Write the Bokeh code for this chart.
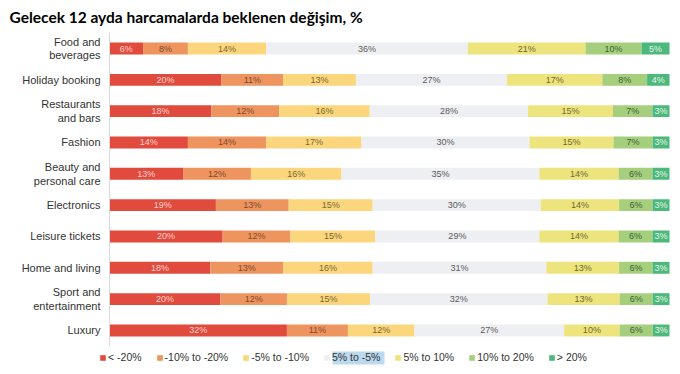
from bokeh.plotting import figure
from bokeh.models import ColumnDataSource, Range1d, BoxAnnotation, Label
from bokeh.core.properties import value
from bokeh.embed import file_html
from bokeh.resources import INLINE

title_text = "Gelecek 12 ayda harcamalarda beklenen değişim, %"
categories = ["Food and\nbeverages", "Holiday booking", "Restaurants\nand bars", "Fashion",
              "Beauty and\npersonal care", "Electronics", "Leisure tickets", "Home and living",
              "Sport and\nentertainment", "Luxury"]
series_names = ["< -20%", "-10% to -20%", "-5% to -10%", "5% to -5%", "5% to 10%", "10% to 20%", "> 20%"]
lt_minus20 = [6, 20, 18, 14, 13, 19, 20, 18, 20, 32]
minus10_20 = [8, 11, 12, 14, 12, 13, 12, 13, 12, 11]
minus5_10 = [14, 13, 16, 17, 16, 15, 15, 16, 15, 12]
plus_minus5 = [36, 27, 28, 30, 35, 30, 29, 31, 32, 27]
plus5_10 = [21, 17, 15, 15, 14, 14, 14, 13, 13, 10]
plus10_20 = [10, 8, 7, 7, 6, 6, 6, 6, 6, 6]
gt_plus20 = [5, 4, 3, 3, 3, 3, 3, 3, 3, 3]
series = [lt_minus20, minus10_20, minus5_10, plus_minus5, plus5_10, plus10_20, gt_plus20]

bar_colors = ["#E14B3E", "#EE945F", "#FBD67C", "#EDEFF2", "#EDE47D", "#A6CF7D", "#4DB87B"]
text_colors = ["#F8D3CD", "#7E4A2C", "#7A6634", "#5A5A5A", "#6E6A34", "#3F5F33", "#E4F4E8"]

W, H = 672, 366
left_px, right_px = 109, 669          # pixels of 0% and 100%
row0_px, row_step = 48.0, 31.33       # pixel centre of first row, row spacing
px_per_unit = (right_px - left_px) / 100.0
x_start = -left_px / px_per_unit
x_end = 100 + (W - right_px) / px_per_unit
y_top = -row0_px / row_step
y_bottom = (H - row0_px) / row_step

def ydata(py):
    return y_top + py / row_step

def xdata(px):
    return (px - left_px) / px_per_unit

p = figure(width=W, height=H, output_backend="svg", toolbar_location=None,
           x_range=Range1d(x_start, x_end), y_range=Range1d(y_bottom, y_top),
           x_axis_location=None, y_axis_location=None, min_border=0)
p.outline_line_color = None
p.xgrid.visible = False
p.ygrid.visible = False
p.background_fill_color = "white"
p.border_fill_color = "white"

# highlight behind the fourth legend label
hl = BoxAnnotation(left=xdata(332), right=xdata(384), top=ydata(351), bottom=ydata(364),
                   fill_color="#BCD9EE", fill_alpha=1.0, line_color=None, level="underlay")
p.add_layout(hl)

n = len(categories)
rows = list(range(n))
totals = [sum(s[i] for s in series) for i in rows]
cum = [0.0] * n
for k, s in enumerate(series):
    left = [cum[i] for i in rows]
    right = [cum[i] + s[i] / totals[i] * 100 for i in rows]
    cum = right
    src = ColumnDataSource(dict(y=rows, left=left, right=right,
                                mid=[(a + b) / 2 for a, b in zip(left, right)],
                                lab=[f"{v}%" for v in s]))
    p.hbar(y="y", left="left", right="right", height=0.38, source=src,
           fill_color=bar_colors[k], line_color=None, legend_label=series_names[k])
    p.text(x="mid", y="y", text="lab", source=src, text_align="center", text_baseline="middle",
           text_font=value("Liberation Sans"), text_font_size="9px", text_color=text_colors[k])

# axis line
p.segment(x0=[0], y0=[-0.5], x1=[0], y1=[n - 0.5], line_color="#DADADA", line_width=1)

# category labels
p.text(x=[0] * n, y=rows, text=categories, x_offset=-9, text_align="right", text_baseline="middle",
       text_font=value("Liberation Sans"), text_font_size="11px", text_color="#333333",
       text_line_height=1.15)

# title
p.add_layout(Label(x=x_start, y=ydata(16), x_offset=9, text=title_text, text_font="Lato",
                   text_font_style="bold", text_font_size="15.5px", text_color="#000000",
                   text_baseline="middle", text_align="left"))

lg = p.legend[0]
lg.orientation = "horizontal"
lg.location = (99, 3)
lg.margin = 0
lg.padding = 0
lg.spacing = 14
lg.border_line_color = None
lg.background_fill_alpha = 0
lg.glyph_width = 7
lg.glyph_height = 7
lg.label_standoff = 2
lg.label_text_font = "Liberation Sans"
lg.label_text_font_size = "10.5px"
lg.label_text_color = "#333333"
lg.label_height = 12

open("out.html", "w").write(file_html(p, INLINE))
